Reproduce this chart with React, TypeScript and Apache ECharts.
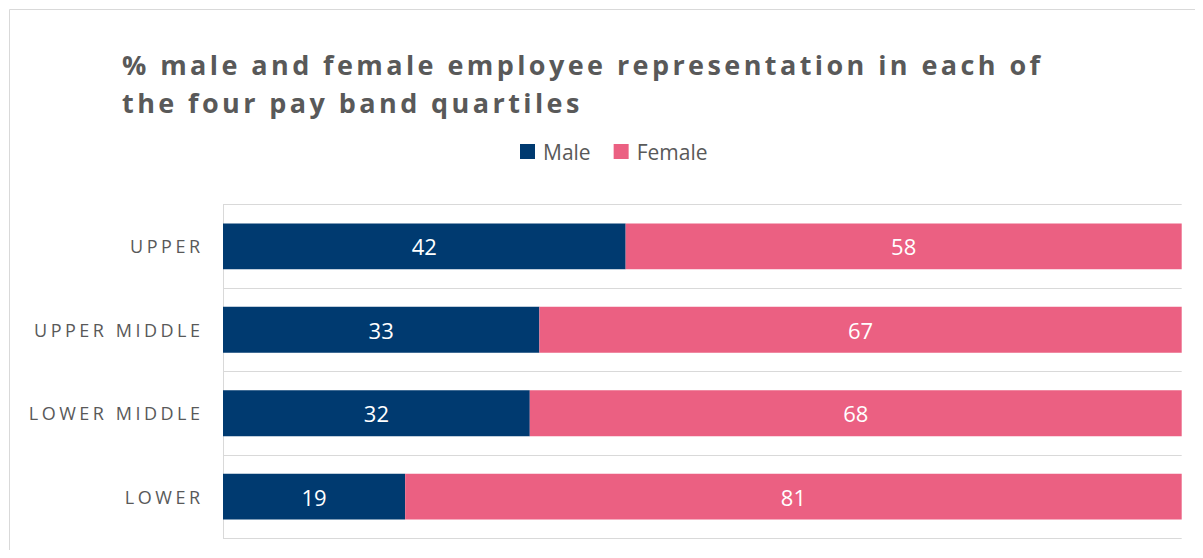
import React, { useEffect, useRef } from 'react';
import * as echarts from 'echarts';

const TITLE_LINES = ['% male and female employee representation in each of', 'the four pay band quartiles'];
const CATEGORIES = ['UPPER', 'UPPER MIDDLE', 'LOWER MIDDLE', 'LOWER'];
const SERIES_NAMES = ['Male', 'Female'];
const MALE = [42, 33, 32, 19];
const FEMALE = [58, 67, 68, 81];

const FONT = '"Open Sans", "Noto Sans", sans-serif';
const TITLE_SIZE = 27;
const LABEL_SIZE = 18;
const TITLE_TARGET = 918;
const LABEL_TARGET = 166;

let measureCtx: CanvasRenderingContext2D | null = null;
function measure(text: string, font: string): number {
  if (!measureCtx) measureCtx = document.createElement('canvas').getContext('2d');
  if (!measureCtx) return text.length * 10;
  measureCtx.font = font;
  return measureCtx.measureText(text).width;
}

function applySpacing(root: HTMLElement) {
  const svg = root.querySelector('svg');
  if (!svg) return;
  const titleNat = measure(TITLE_LINES[0], `bold ${TITLE_SIZE}px ${FONT}`);
  const titleSp = (TITLE_TARGET - titleNat) / (TITLE_LINES[0].length - 1);
  const labNat = measure('UPPER MIDDLE', `${LABEL_SIZE}px ${FONT}`);
  const labSp = (LABEL_TARGET - labNat) / 11;
  svg.querySelectorAll('text').forEach((t) => {
    const s = (t.textContent || '').trim();
    const el = t as SVGTextElement;
    if (TITLE_LINES.includes(s)) {
      el.style.letterSpacing = titleSp + 'px';
    } else if (CATEGORIES.includes(s)) {
      el.style.letterSpacing = labSp + 'px';
      if (!el.hasAttribute('data-ox')) el.setAttribute('data-ox', el.getAttribute('x') || '0');
      el.setAttribute('x', String(parseFloat(el.getAttribute('data-ox') || '0') + labSp));
    }
  });
}

export default function App() {
  const ref = useRef<HTMLDivElement>(null);
  useEffect(() => {
    if (!ref.current) return;
    const chart = echarts.init(ref.current, undefined, { renderer: 'svg' });
    const barLabel = {
      show: true,
      position: 'inside',
      color: '#ffffff',
      fontSize: 22,
      fontFamily: FONT,
    };
    chart.setOption({
      animation: false,
      backgroundColor: '#ffffff',
      title: {
        text: TITLE_LINES.join('\n'),
        left: 114,
        top: 37,
        padding: 0,
        textStyle: {
          fontFamily: FONT,
          fontSize: TITLE_SIZE,
          fontWeight: 'bold',
          color: '#595959',
          lineHeight: 38,
        },
      },
      legend: {
        data: SERIES_NAMES,
        left: 512,
        top: 133,
        padding: 0,
        icon: 'rect',
        itemWidth: 15,
        itemHeight: 15,
        itemGap: 23,
        selectedMode: false,
        textStyle: { fontFamily: FONT, fontSize: 21, color: '#595959', padding: [0, 0, 0, 3] },
      },
      graphic: [
        {
          type: 'rect',
          silent: true,
          shape: { x: 1.5, y: 1.5, width: 1400, height: 800 },
          style: { fill: 'none', stroke: '#d9d9d9', lineWidth: 1 },
        },
      ],
      grid: { left: 215, top: 196.7, right: 21.3, bottom: 19.7, containLabel: false },
      xAxis: {
        type: 'value',
        min: 0,
        max: 100,
        show: false,
        splitLine: { show: false },
      },
      yAxis: {
        type: 'category',
        data: CATEGORIES,
        inverse: true,
        axisLine: { show: true, lineStyle: { color: '#d9d9d9', width: 1 } },
        axisTick: { show: false },
        splitLine: { show: true, lineStyle: { color: '#d9d9d9', width: 1 } },
        axisLabel: { fontFamily: FONT, fontSize: LABEL_SIZE, color: '#595959', margin: 23 },
      },
      series: [
        {
          name: SERIES_NAMES[0],
          type: 'bar',
          stack: 'total',
          data: MALE,
          barWidth: '55%',
          itemStyle: { color: '#003A70' },
          label: barLabel,
        },
        {
          name: SERIES_NAMES[1],
          type: 'bar',
          stack: 'total',
          data: FEMALE,
          barWidth: '55%',
          itemStyle: { color: '#EB6082' },
          label: barLabel,
        },
      ],
    });
    const el = ref.current;
    applySpacing(el);
    const onFinished = () => applySpacing(el);
    chart.on('finished', onFinished);
    const timer = window.setTimeout(() => applySpacing(el), 50);
    return () => {
      window.clearTimeout(timer);
      chart.off('finished', onFinished);
      chart.dispose();
    };
  }, []);
  return <div ref={ref} style={{ width: 1195, height: 550, marginBottom: -8 }} />;
}
